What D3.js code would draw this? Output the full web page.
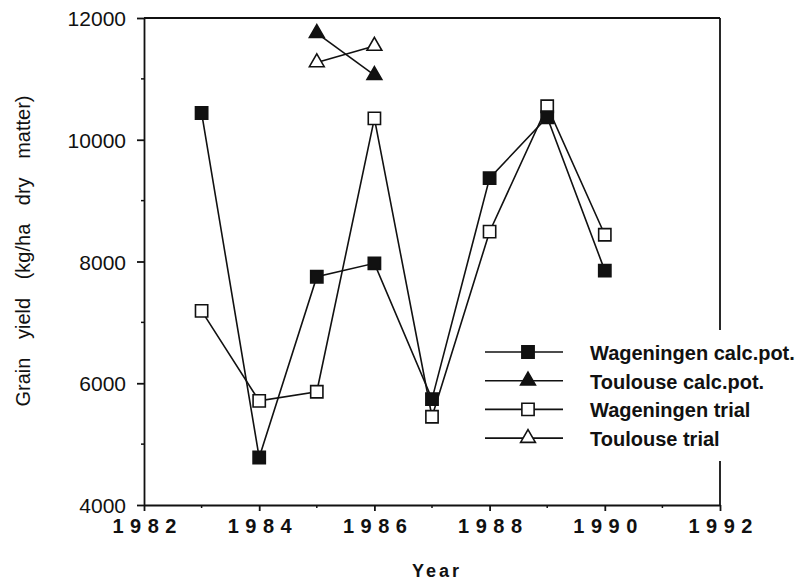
<!DOCTYPE html>
<html>
<head>
<meta charset="utf-8">
<script src="https://cdn.jsdelivr.net/npm/d3@7"></script>
<style>
  body { margin: 0; background: #fff; }
  svg text { font-family: "Liberation Sans", Arial, Helvetica, sans-serif; fill: #111; }
</style>
</head>
<body>
<svg width="804" height="580"></svg>
<script>
// data
var years = [1983, 1984, 1985, 1986, 1987, 1988, 1989, 1990];
var wagCalc = [10440, 4780, 7750, 7970, 5740, 9370, 10370, 7850];
var wagTrial = [7190, 5710, 5860, 10350, 5450, 8490, 10550, 8440];
var touYears = [1985, 1986];
var touCalc = [11750, 11060];
var touTrial = [11270, 11540];
var xTicks = [1982, 1984, 1986, 1988, 1990, 1992];
var yTicks = [4000, 6000, 8000, 10000, 12000];
var legendLabels = ["Wageningen calc.pot.", "Toulouse calc.pot.", "Wageningen trial", "Toulouse trial"];

var svg = d3.select("svg");
var ink = "#111";

var x = d3.scaleLinear().domain([1982, 1992]).range([144, 720]);
var y = d3.scaleLinear().domain([4000, 12000]).range([505, 18]);

// frame
svg.append("line").attr("x1", x(1982)).attr("x2", x(1992)).attr("y1", y(12000)).attr("y2", y(12000))
  .attr("stroke", ink).attr("stroke-width", 1.8);
svg.append("line").attr("x1", x(1992)).attr("x2", x(1992)).attr("y1", y(12000)).attr("y2", y(4000))
  .attr("stroke", ink).attr("stroke-width", 1.8);

// minor ticks
svg.append("g").selectAll("line")
  .data(d3.range(1983, 1992, 2))
  .enter().append("line")
  .attr("x1", function(d) { return x(d); }).attr("x2", function(d) { return x(d); })
  .attr("y1", y(4000)).attr("y2", y(4000) + 3)
  .attr("stroke", ink).attr("stroke-width", 1.5);
svg.append("g").selectAll("line")
  .data(d3.range(5000, 12000, 2000))
  .enter().append("line")
  .attr("x1", x(1982) - 3).attr("x2", x(1982))
  .attr("y1", function(d) { return y(d); }).attr("y2", function(d) { return y(d); })
  .attr("stroke", ink).attr("stroke-width", 1.5);

var xAxis = svg.append("g")
  .attr("transform", "translate(0," + y(4000) + ")")
  .call(d3.axisBottom(x).tickValues(xTicks).tickSize(6).tickSizeOuter(0).tickFormat(d3.format("d")));
xAxis.selectAll("text")
  .attr("font-size", 20).attr("font-weight", "bold")
  .attr("letter-spacing", "6.5px").attr("dx", "3.25px").attr("dy", "0.95em");

var yAxis = svg.append("g")
  .attr("transform", "translate(" + x(1982) + ",0)")
  .call(d3.axisLeft(y).tickValues(yTicks).tickSize(7).tickSizeOuter(0).tickFormat(d3.format("d")));
yAxis.selectAll("text").attr("font-size", 21).attr("x", -18).attr("dy", "0.36em");

svg.selectAll(".domain, .tick line").attr("stroke", ink).attr("stroke-width", 1.8);
svg.selectAll(".tick text").attr("fill", ink);

// axis titles
svg.append("text")
  .attr("x", (x(1982) + x(1992)) / 2 + 5).attr("y", 577)
  .attr("text-anchor", "middle").attr("font-size", 18).attr("font-weight", "bold")
  .attr("letter-spacing", "3px")
  .text("Year");
svg.append("text")
  .attr("transform", "translate(30,251) rotate(-90)")
  .attr("text-anchor", "middle").attr("font-size", 20)
  .attr("word-spacing", "13px")
  .text("Grain yield (kg/ha dry matter)");

// series
var line = d3.line();
function drawLine(xs, ys) {
  svg.append("path")
    .attr("d", line(xs.map(function(d, i) { return [x(d), y(ys[i])]; })))
    .attr("fill", "none").attr("stroke", ink).attr("stroke-width", 1.6);
}
drawLine(years, wagTrial);
drawLine(years, wagCalc);
drawLine(touYears, touCalc);
drawLine(touYears, touTrial);

var sq = d3.symbol().type(d3.symbolSquare).size(150);
var tri = d3.symbol().type(d3.symbolTriangle).size(95);

function drawMarks(xs, ys, sym, filled) {
  svg.append("g").selectAll("path")
    .data(xs)
    .enter().append("path")
    .attr("transform", function(d, i) { return "translate(" + x(d) + "," + y(ys[i]) + ")"; })
    .attr("d", sym)
    .attr("fill", filled ? ink : "#fff")
    .attr("stroke", ink).attr("stroke-width", 1.6);
}
drawMarks(years, wagTrial, sq, false);
drawMarks(years, wagCalc, sq, true);
drawMarks(touYears, touTrial, tri, false);
drawMarks(touYears, touCalc, tri, true);

// legend
var lg = svg.append("g");
lg.append("rect").attr("x", 478).attr("y", 330).attr("width", 326).attr("height", 131).attr("fill", "#fff");
var syms = [[sq, true], [tri, true], [sq, false], [tri, false]];
legendLabels.forEach(function(label, i) {
  var cy = 352 + i * 28.7;
  lg.append("line").attr("x1", 485).attr("x2", 563).attr("y1", cy).attr("y2", cy)
    .attr("stroke", ink).attr("stroke-width", 1.6);
  lg.append("path").attr("transform", "translate(528," + cy + ")")
    .attr("d", syms[i][0])
    .attr("fill", syms[i][1] ? ink : "#fff")
    .attr("stroke", ink).attr("stroke-width", 1.6);
  lg.append("text").attr("x", 590).attr("y", cy + 8)
    .attr("font-size", 20).attr("font-weight", "bold")
    .text(label);
});
</script>
</body>
</html>
